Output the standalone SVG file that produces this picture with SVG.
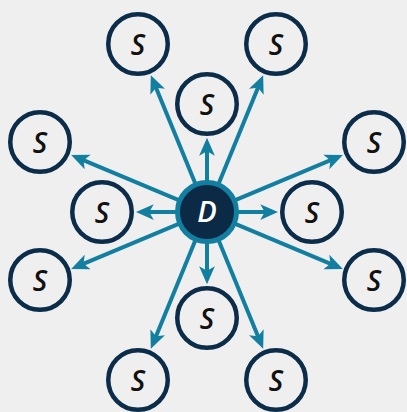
<svg xmlns="http://www.w3.org/2000/svg" width="407" height="412" viewBox="0 0 407 412">
<style>
.s circle{fill:#efefef;stroke:#0b2d4a;stroke-width:4.5}
.s text{font-family:"Open Sans","Liberation Sans",sans-serif;font-style:italic;font-weight:600;font-size:28px;fill:#111;text-anchor:middle}
.c line{stroke:#137fa0;stroke-width:4;marker-end:url(#ah)}
</style>
<defs>
<marker id="ah" markerUnits="userSpaceOnUse" markerWidth="18" markerHeight="16" viewBox="0 0 16 14" refX="6" refY="7" orient="auto">
<path d="M0,0 L16,7 L0,14 L4,7 z" fill="#137fa0"/>
</marker>
</defs>
<rect width="407" height="412" fill="#efefef"/>
<g id="connectors" class="c">
<line x1="195.6" y1="184.3" x2="155.1" y2="85.6"/>
<line x1="218.4" y1="184.3" x2="258.9" y2="85.6"/>
<line x1="195.6" y1="239.7" x2="155.1" y2="338.4"/>
<line x1="218.4" y1="239.7" x2="258.9" y2="338.4"/>
<line x1="179.3" y1="200.4" x2="81.5" y2="159.4"/>
<line x1="179.3" y1="223.6" x2="81.5" y2="264.6"/>
<line x1="234.7" y1="200.4" x2="332.5" y2="159.4"/>
<line x1="234.7" y1="223.6" x2="332.5" y2="264.6"/>
<line x1="207" y1="182" x2="207" y2="149"/>
<line x1="207" y1="242" x2="207" y2="273"/>
<line x1="177" y1="212" x2="147" y2="212"/>
<line x1="237" y1="212" x2="267" y2="212"/>
</g>
<g id="D">
<circle cx="207" cy="212" r="29.5" fill="#0b2a45" stroke="#137fa0" stroke-width="5"/>
<text x="207" y="222" font-family="'Open Sans','Liberation Sans',sans-serif" font-style="italic" font-weight="600" font-size="29" fill="#fff" text-anchor="middle">D</text>
</g>
<g id="s_tl" class="s"><circle cx="138" cy="44" r="29.75"/><text x="138" y="55">S</text></g>
<g id="s_tr" class="s"><circle cx="276" cy="44" r="29.75"/><text x="276" y="55">S</text></g>
<g id="s_t" class="s"><circle cx="207" cy="104" r="29.75"/><text x="207" y="115">S</text></g>
<g id="s_lt" class="s"><circle cx="40" cy="142" r="29.75"/><text x="40" y="153">S</text></g>
<g id="s_rt" class="s"><circle cx="374" cy="142" r="29.75"/><text x="374" y="153">S</text></g>
<g id="s_l" class="s"><circle cx="102" cy="212" r="29.75"/><text x="102" y="223">S</text></g>
<g id="s_r" class="s"><circle cx="312" cy="212" r="29.75"/><text x="312" y="223">S</text></g>
<g id="s_lb" class="s"><circle cx="40" cy="280" r="29.75"/><text x="40" y="291">S</text></g>
<g id="s_rb" class="s"><circle cx="374" cy="280" r="29.75"/><text x="374" y="291">S</text></g>
<g id="s_b" class="s"><circle cx="207" cy="318" r="29.75"/><text x="207" y="329">S</text></g>
<g id="s_bl" class="s"><circle cx="138" cy="380" r="29.75"/><text x="138" y="391">S</text></g>
<g id="s_br" class="s"><circle cx="276" cy="380" r="29.75"/><text x="276" y="391">S</text></g>
</svg>
